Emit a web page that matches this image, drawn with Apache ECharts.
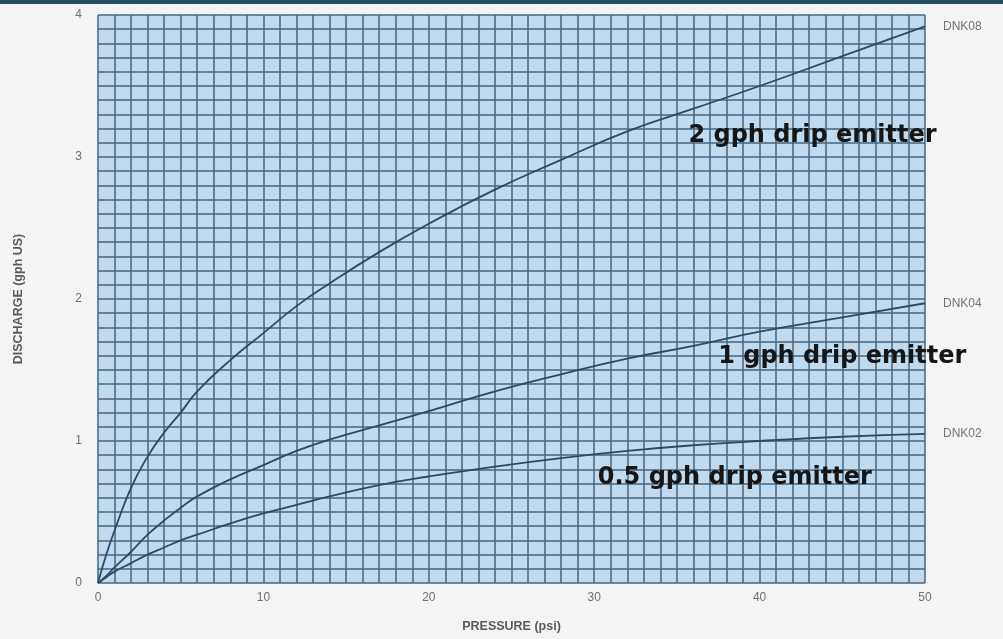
<!DOCTYPE html>
<html>
<head>
<meta charset="utf-8">
<script src="https://cdn.jsdelivr.net/npm/echarts@6/dist/echarts.min.js"></script>
<style>
  html, body { margin: 0; padding: 0; background: #f3f4f6; }
  #chart { width: 1003px; height: 639px; }
</style>
</head>
<body>
<div id="chart"></div>
<script>
// pressure (psi) where the curves were read
const pressure = [0, 0.5, 1, 2, 3, 4, 5, 6, 8, 10, 12, 14, 17, 20, 24, 28, 32, 36, 40, 45, 50]

// discharge (gph US)
const dnk08 = [0, 0.2, 0.37, 0.67, 0.89, 1.06, 1.2, 1.35, 1.57, 1.76, 1.95, 2.11, 2.33, 2.53, 2.77, 2.98, 3.18, 3.34, 3.5, 3.71, 3.92]
const dnk04 = [0, 0.05, 0.11, 0.22, 0.34, 0.44, 0.53, 0.61, 0.73, 0.83, 0.93, 1.01, 1.11, 1.21, 1.35, 1.47, 1.58, 1.67, 1.77, 1.87, 1.97]
const dnk02 = [0, 0.04, 0.08, 0.14, 0.2, 0.25, 0.3, 0.34, 0.42, 0.49, 0.55, 0.61, 0.69, 0.75, 0.82, 0.88, 0.93, 0.97, 1.0, 1.03, 1.05]

const seriesNames = ['DNK08', 'DNK04', 'DNK02']
const emitterLabels = ['2 gph drip emitter', '1 gph drip emitter', '0.5 gph drip emitter']

const pairs = ys => pressure.map((p, i) => [p, ys[i]])

const gridLine = { show: true, lineStyle: { color: '#46667f', width: 1.5 } }

// bold text written on the grid, placed in data coordinates
const annotation = (text, coord) => ({
  symbol: 'circle',
  symbolSize: 1,
  itemStyle: { color: 'rgba(0,0,0,0)' },
  data: [{ coord: coord, value: text }],
  label: {
    show: true,
    formatter: text,
    position: 'inside',
    color: '#161616',
    fontFamily: 'DejaVu Sans',
    fontWeight: 'bold',
    fontSize: 24
  }
})

const makeSeries = (name, ys, labelText, labelCoord) => ({
  name: name,
  type: 'line',
  data: pairs(ys),
  smooth: true,
  showSymbol: false,
  silent: true,
  lineStyle: { color: '#2c4b62', width: 1.8 },
  endLabel: {
    show: true,
    formatter: '{a}',
    distance: 18,
    color: '#747474',
    fontFamily: 'Liberation Sans',
    fontSize: 12
  },
  markPoint: annotation(labelText, labelCoord)
})

const option = {
  backgroundColor: '#f3f4f6',
  animation: false,
  graphic: [{
    type: 'rect',
    left: 0, top: 0,
    shape: { width: 1003, height: 4 },
    style: { fill: '#22505e' }
  }],
  grid: { left: 98, right: 78, top: 15, bottom: 56, show: true, backgroundColor: '#c1daee', borderWidth: 0 },
  xAxis: {
    type: 'value',
    min: 0, max: 50, interval: 10,
    name: 'PRESSURE (psi)',
    nameLocation: 'middle',
    nameGap: 37,
    nameTextStyle: { color: '#5a5a5a', fontFamily: 'Liberation Sans', fontWeight: 'bold', fontSize: 12.5 },
    axisLine: { show: false },
    axisTick: { show: false },
    axisLabel: { color: '#707070', fontFamily: 'Liberation Sans', fontSize: 12, margin: 9 },
    splitLine: gridLine,
    minorTick: { show: false, splitNumber: 10 },
    minorSplitLine: gridLine
  },
  yAxis: {
    type: 'value',
    min: 0, max: 4, interval: 1,
    name: 'DISCHARGE (gph US)',
    nameLocation: 'middle',
    nameGap: 73,
    nameTextStyle: { color: '#5a5a5a', fontFamily: 'Liberation Sans', fontWeight: 'bold', fontSize: 12.5 },
    axisLine: { show: false },
    axisTick: { show: false },
    axisLabel: { color: '#707070', fontFamily: 'Liberation Sans', fontSize: 12, margin: 16 },
    splitLine: gridLine,
    minorTick: { show: false, splitNumber: 10 },
    minorSplitLine: gridLine
  },
  series: [
    makeSeries(seriesNames[0], dnk08, emitterLabels[0], [43.2, 3.15]),
    makeSeries(seriesNames[1], dnk04, emitterLabels[1], [45.0, 1.59]),
    makeSeries(seriesNames[2], dnk02, emitterLabels[2], [38.5, 0.74])
  ]
}

const myChart = echarts.init(document.getElementById('chart'))
myChart.setOption(option)
</script>
</body>
</html>
